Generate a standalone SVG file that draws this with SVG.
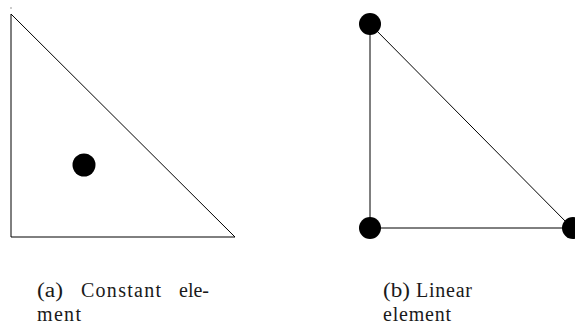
<svg xmlns="http://www.w3.org/2000/svg" width="575" height="325" viewBox="0 0 575 325">
<style>
.edge{stroke:#000;stroke-width:1;fill:none}
.node{fill:#000}
.cap{font-family:"Liberation Serif","DejaVu Serif",serif;font-size:20px;fill:#1a1a1a}
</style>
<rect width="575" height="325" fill="#fff"/>
<rect x="10.5" y="7" width="1" height="2" fill="#999"/>
<g id="connectors">
<path class="edge" d="M11,14 L11,237 L235,237 Z"/>
<path class="edge" d="M370,24 L370,228 L572,228 Z"/>
</g>
<g id="n-const"><circle class="node" cx="84" cy="165" r="11.5"/></g>
<g id="n-lin1"><circle class="node" cx="370" cy="24" r="11"/></g>
<g id="n-lin2"><circle class="node" cx="370" cy="228" r="11"/></g>
<g id="n-lin3"><circle class="node" cx="573" cy="228" r="11"/></g>
<g id="caption-a" class="cap">
<text x="37" y="297" textLength="26" lengthAdjust="spacingAndGlyphs">(a)</text>
<text x="81" y="297" textLength="80" lengthAdjust="spacing">Constant</text>
<text x="179" y="297" textLength="30" lengthAdjust="spacing">ele-</text>
<text x="37" y="321" textLength="44" lengthAdjust="spacing">ment</text>
</g>
<g id="caption-b" class="cap">
<text x="383" y="297" textLength="27" lengthAdjust="spacingAndGlyphs">(b)</text>
<text x="416" y="297" textLength="56" lengthAdjust="spacing">Linear</text>
<text x="383" y="321" textLength="68" lengthAdjust="spacing">element</text>
</g>
</svg>
